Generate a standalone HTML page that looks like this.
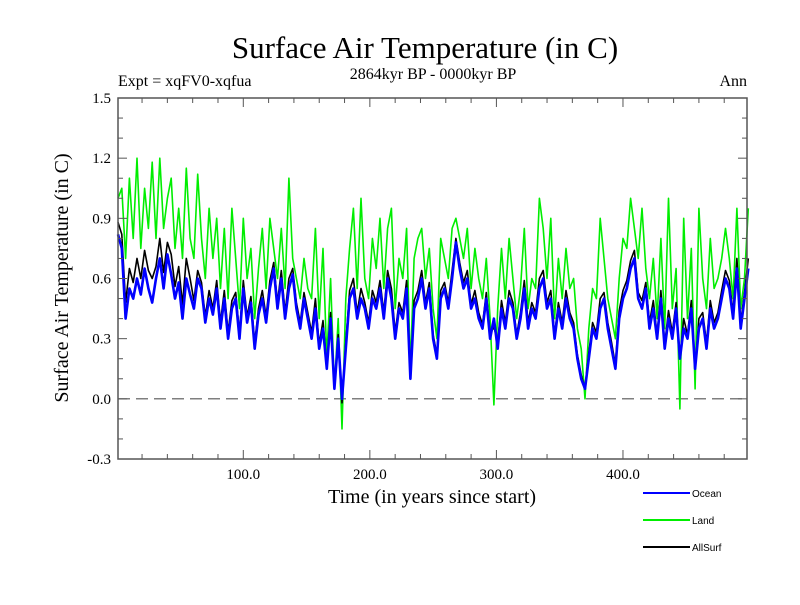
<!DOCTYPE html>
<html><head><meta charset="utf-8"><style>
body{margin:0;background:#fff;}
svg text{font-family:"Liberation Serif",serif;}
</style></head><body>
<svg id="c" width="800" height="600" xmlns="http://www.w3.org/2000/svg">
<text x="425" y="58" font-size="31" text-anchor="middle">Surface Air Temperature (in C)</text>
<text x="433" y="79" font-size="16" text-anchor="middle">2864kyr BP - 0000kyr BP</text>
<text x="118" y="86" font-size="16">Expt = xqFV0-xqfua</text>
<text x="747" y="86" font-size="16" text-anchor="end">Ann</text>
<text x="432" y="503" font-size="20" text-anchor="middle">Time (in years since start)</text>
<text transform="translate(68,278) rotate(-90)" font-size="20" text-anchor="middle">Surface Air Temperature (in C)</text>
<g id="plot"></g>
<g id="axes"></g>
<g font-size="11">
<line x1="643" y1="493" x2="690" y2="493" stroke="#0000ff" stroke-width="2"/>
<text x="692" y="497" style="font-family:'Liberation Sans',sans-serif" font-size="10">Ocean</text>
<line x1="643" y1="520" x2="690" y2="520" stroke="#00ee00" stroke-width="2"/>
<text x="692" y="524" style="font-family:'Liberation Sans',sans-serif" font-size="10">Land</text>
<line x1="643" y1="547" x2="690" y2="547" stroke="#000" stroke-width="2"/>
<text x="692" y="551" style="font-family:'Liberation Sans',sans-serif" font-size="10">AllSurf</text>
</g>
</svg>
<script>
const startYear = 1;
const yearStep = 3;
const ocean = [0.82,0.75,0.4,0.55,0.5,0.6,0.52,0.65,0.55,0.48,
0.6,0.7,0.55,0.72,0.62,0.5,0.58,0.4,0.6,0.52,
0.45,0.6,0.55,0.38,0.5,0.42,0.55,0.35,0.5,0.3,
0.45,0.5,0.3,0.55,0.38,0.48,0.25,0.42,0.5,0.38,
0.55,0.65,0.45,0.6,0.4,0.55,0.62,0.45,0.35,0.5,
0.4,0.3,0.45,0.25,0.35,0.15,0.4,0.05,0.3,0.0,
0.25,0.5,0.55,0.4,0.5,0.45,0.35,0.5,0.45,0.55,
0.4,0.6,0.5,0.3,0.45,0.4,0.55,0.1,0.45,0.5,
0.6,0.45,0.55,0.3,0.2,0.5,0.55,0.45,0.6,0.78,
0.65,0.55,0.6,0.45,0.5,0.4,0.35,0.5,0.3,0.4,
0.25,0.45,0.35,0.5,0.45,0.3,0.4,0.55,0.35,0.45,
0.4,0.55,0.6,0.45,0.5,0.3,0.45,0.35,0.5,0.4,
0.35,0.2,0.1,0.05,0.2,0.35,0.3,0.45,0.5,0.35,
0.25,0.15,0.4,0.5,0.55,0.65,0.7,0.5,0.45,0.55,
0.35,0.45,0.3,0.5,0.25,0.4,0.3,0.45,0.2,0.35,
0.3,0.45,0.15,0.35,0.4,0.25,0.45,0.35,0.4,0.5,
0.6,0.55,0.4,0.65,0.35,0.5,0.65];
const land = [1.0,1.05,0.7,1.1,0.8,1.2,0.75,1.05,0.85,1.18,
0.8,1.2,0.85,1.0,1.1,0.75,0.95,0.7,1.15,0.8,
0.7,1.12,0.8,0.6,0.95,0.7,0.9,0.55,0.85,0.5,
0.95,0.7,0.45,0.9,0.6,0.75,0.4,0.65,0.85,0.55,
0.9,0.75,0.6,0.85,0.55,1.1,0.7,0.6,0.5,0.7,
0.55,0.5,0.85,0.4,0.75,0.2,0.6,0.05,0.4,-0.15,
0.5,0.75,0.95,0.55,1.0,0.6,0.5,0.8,0.65,0.9,
0.55,0.85,0.95,0.45,0.7,0.6,0.85,0.15,0.7,0.8,
0.85,0.6,0.75,0.45,0.3,0.8,0.7,0.6,0.85,0.9,
0.8,0.7,0.85,0.55,0.75,0.6,0.5,0.7,0.4,-0.03,
0.45,0.75,0.5,0.8,0.6,0.4,0.55,0.85,0.45,0.6,
0.55,1.0,0.85,0.6,0.9,0.4,0.7,0.5,0.75,0.55,
0.6,0.35,0.25,0.0,0.35,0.55,0.5,0.9,0.7,0.5,
0.4,0.3,0.6,0.8,0.75,1.0,0.85,0.7,0.95,0.65,
0.5,0.7,0.4,0.8,0.35,1.0,0.45,0.65,-0.05,0.9,
0.4,0.75,0.05,0.95,0.6,0.45,0.8,0.55,0.6,0.7,
0.85,0.7,0.5,0.95,0.45,0.6,0.95];
const allsurf = [0.88,0.82,0.48,0.65,0.58,0.7,0.6,0.74,0.64,0.6,
0.66,0.8,0.63,0.78,0.72,0.56,0.66,0.47,0.7,0.6,
0.49,0.64,0.58,0.41,0.54,0.45,0.59,0.38,0.54,0.33,
0.49,0.53,0.33,0.59,0.41,0.51,0.28,0.45,0.54,0.41,
0.59,0.68,0.48,0.64,0.43,0.6,0.65,0.48,0.38,0.53,
0.43,0.33,0.5,0.27,0.39,0.16,0.43,0.05,0.32,-0.02,
0.28,0.54,0.6,0.43,0.55,0.48,0.38,0.54,0.48,0.59,
0.43,0.64,0.55,0.33,0.48,0.43,0.59,0.11,0.49,0.54,
0.64,0.48,0.58,0.32,0.22,0.54,0.58,0.48,0.64,0.8,
0.68,0.58,0.64,0.47,0.54,0.43,0.37,0.53,0.32,0.36,
0.28,0.49,0.38,0.54,0.48,0.32,0.43,0.59,0.38,0.48,
0.43,0.6,0.64,0.48,0.54,0.32,0.48,0.38,0.54,0.43,
0.38,0.22,0.12,0.05,0.23,0.38,0.33,0.5,0.53,0.38,
0.28,0.17,0.44,0.54,0.59,0.69,0.74,0.53,0.49,0.58,
0.38,0.49,0.32,0.54,0.27,0.44,0.33,0.48,0.2,0.4,
0.32,0.49,0.15,0.4,0.43,0.28,0.49,0.38,0.43,0.54,
0.64,0.59,0.43,0.7,0.38,0.53,0.7];
const yTickLabels = ["-0.3","0.0","0.3","0.6","0.9","1.2","1.5"];
const xTickLabels = ["100.0","200.0","300.0","400.0"];

const L=118,R=747,T=98,B=459;
const x = v => L + (v - 1) * (R - L) / 497;
const y = v => B - (v + 0.3) * (B - T) / 1.8;
const NS='http://www.w3.org/2000/svg';
const plot=document.getElementById('plot'), axes=document.getElementById('axes');
function mk(tag, attrs, parent){const e=document.createElementNS(NS,tag);for(const k in attrs)e.setAttribute(k,attrs[k]);parent.appendChild(e);return e;}

const zl = mk('line',{x1:L,x2:R,y1:y(0),y2:y(0),stroke:'#555','stroke-width':1.2,'stroke-dasharray':'12,6'},plot);



function series(vals,color,w,name){
  const d = vals.map((v,i)=>(i?'L':'M')+x(startYear+i*yearStep).toFixed(1)+','+y(v).toFixed(1)).join('');
  const p = mk('path',{d:d,fill:'none',stroke:color,'stroke-width':w,'stroke-linejoin':'round'},plot);
  
  
}
series(land,'#00ee00',1.6,'land-series');
series(allsurf,'#000000',1.6,'allsurf-series');
series(ocean,'#0000ff',2.6,'ocean-series');

const fr = mk('rect',{x:L,y:T,width:R-L,height:B-T,fill:'none',stroke:'#555','stroke-width':1.5},axes);


for(let k=-3;k<=15;k++){
  const v=k/10, yy=y(v), major=(k%3===0);
  const len=major?9:5;
  mk('line',{x1:L,x2:L+len,y1:yy,y2:yy,stroke:'#555','stroke-width':1},axes);
  mk('line',{x1:R,x2:R-len,y1:yy,y2:yy,stroke:'#555','stroke-width':1},axes);
}
yTickLabels.forEach((lab)=>{
  const v=parseFloat(lab);
  const t=mk('text',{x:L-7,y:y(v)+5,'font-size':15,'text-anchor':'end'},axes);
  t.textContent=lab;
  
  
});
for(let v=20;v<=480;v+=20){
  const xx=x(v), major=(v%100===0), len=major?9:5;
  mk('line',{x1:xx,x2:xx,y1:B,y2:B-len,stroke:'#555','stroke-width':1},axes);
  mk('line',{x1:xx,x2:xx,y1:T,y2:T+len,stroke:'#555','stroke-width':1},axes);
}
xTickLabels.forEach((lab)=>{
  const v=parseFloat(lab);
  const t=mk('text',{x:x(v),y:B+20,'font-size':15,'text-anchor':'middle'},axes);
  t.textContent=lab;
  
  
});
</script>
</body></html>
